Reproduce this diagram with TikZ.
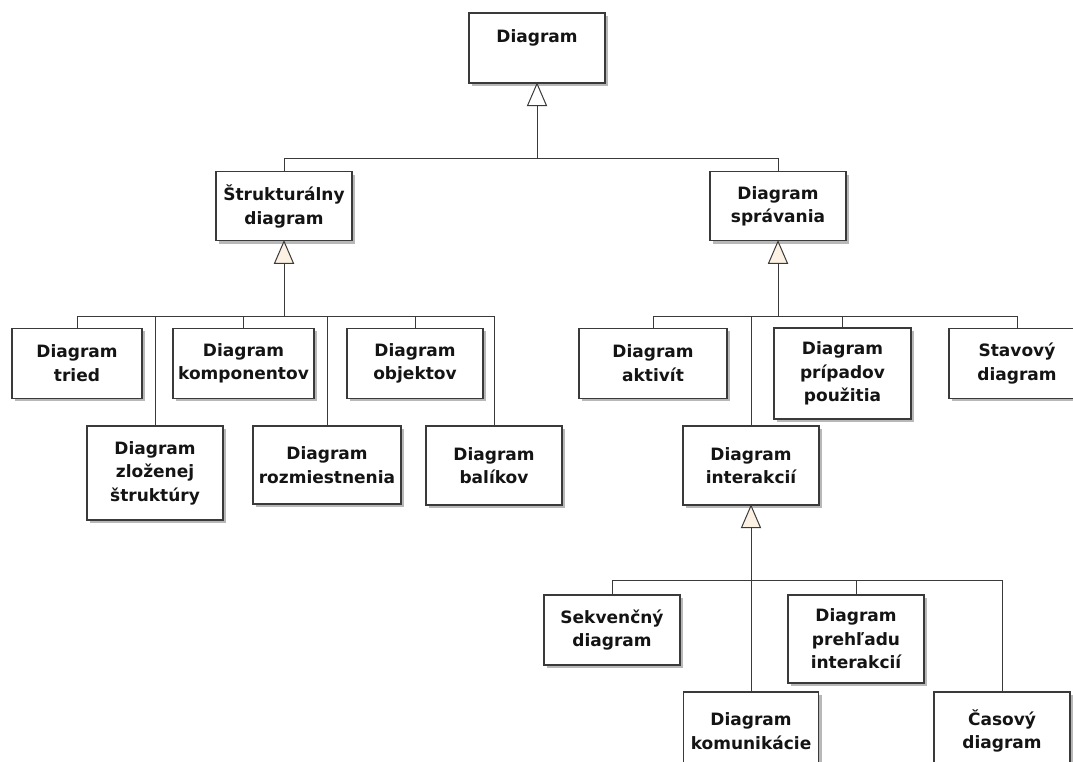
\documentclass[tikz,border=0pt]{standalone}
\usepackage{fontspec}
\setmainfont{DejaVu Sans}
\usetikzlibrary{shadows}
\definecolor{cream}{HTML}{FCF1E2}
\definecolor{inkline}{HTML}{3A3A3A}

\begin{document}
\begin{tikzpicture}[x=1pt,y=-1pt,
  box/.style={draw=inkline, line width=1.3pt, fill=white, align=center, inner sep=0pt,
    font=\fontsize{17}{23.5}\selectfont\bfseries, text=black!92,
    drop shadow={shadow xshift=3pt, shadow yshift=-3pt, fill=black, opacity=0.28}},
  conn/.style={draw=inkline, line width=1pt},
  gen/.style={draw=inkline, line width=1pt, fill=#1, line join=miter},
  gen/.default=cream,
]
\path[use as bounding box] (0,0) rectangle (1073,761);
\fill[white] (0,0) rectangle (1073,761);
\clip (0,0) rectangle (1073,761);

% root
\node[box, minimum width=136pt, minimum height=70pt, text depth=23pt] (d0) at (537,48) {Diagram};

% second level
\node[box, minimum width=136pt, minimum height=69pt] (s) at (284,206.2) {Štrukturálny\\diagram};
\node[box, minimum width=136pt, minimum height=69pt] (b) at (778,206.2) {Diagram\\správania};

% structural diagrams
\node[box, minimum width=130pt, minimum height=70pt] (tried) at (77,363.3) {Diagram\\tried};
\node[box, minimum width=141pt, minimum height=70pt] (komp) at (243.5,363.3) {Diagram\\komponentov};
\node[box, minimum width=136pt, minimum height=70pt] (obj) at (415,363.3) {Diagram\\objektov};
\node[box, minimum width=136pt, minimum height=94pt] (zloz) at (155,473) {Diagram\\zloženej\\štruktúry};
\node[box, minimum width=148pt, minimum height=78pt] (rozm) at (327,465) {Diagram\\rozmiestnenia};
\node[box, minimum width=136pt, minimum height=79pt] (balik) at (494,465.5) {Diagram\\balíkov};

% behavioural diagrams
\node[box, minimum width=148pt, minimum height=70pt] (akt) at (653,363.3) {Diagram\\aktivít};
\node[box, minimum width=137pt, minimum height=91pt] (prip) at (842.5,373.5) {Diagram\\prípadov\\použitia};
\node[box, minimum width=136pt, minimum height=70pt] (stav) at (1017,363.3) {Stavový\\diagram};
\node[box, minimum width=136pt, minimum height=79pt] (inter) at (751,465.5) {Diagram\\interakcií};

% interaction diagrams
\node[box, minimum width=136pt, minimum height=70pt] (sekv) at (612,630) {Sekvenčný\\diagram};
\node[box, minimum width=136pt, minimum height=88pt] (prehl) at (856,639) {Diagram\\prehľadu\\interakcií};
\node[box, minimum width=135pt, minimum height=78pt] (komun) at (751,731) {Diagram\\komunikácie};
\node[box, minimum width=136pt, minimum height=78pt] (cas) at (1002,731) {Časový\\diagram};

% horizontal bus levels
\coordinate (busTop) at (0,158);
\coordinate (busS) at (0,316.7);
\coordinate (busB) at (0,316);
\coordinate (busI) at (0,580);

% triangle bases
\coordinate (d0b) at ([yshift=-22pt]d0.south);
\coordinate (sb) at ([yshift=-22pt]s.south);
\coordinate (bb) at ([yshift=-22pt]b.south);
\coordinate (ib) at ([yshift=-22pt]inter.south);

% generalisation connectors
\draw[conn] (d0b) -- (d0b |- busTop) -| (s.north);
\draw[conn] (d0b |- busTop) -| (b.north);

\draw[conn] (sb) -- (sb |- busS);
\foreach \c in {tried,zloz,komp,rozm,obj,balik}
  \draw[conn] (sb |- busS) -| (\c.north);

\draw[conn] (bb) -- (bb |- busB);
\foreach \c in {akt,inter,prip,stav}
  \draw[conn] (bb |- busB) -| (\c.north);

\draw[conn] (ib) -- (ib |- busI);
\foreach \c in {sekv,komun,prehl,cas}
  \draw[conn] (ib |- busI) -| (\c.north);

% hollow triangle heads
\draw[gen=white] (d0.south) -- ++(-9.5,22) -- ++(19,0) -- cycle;
\draw[gen] (s.south) -- ++(-9.5,22) -- ++(19,0) -- cycle;
\draw[gen] (b.south) -- ++(-9.5,22) -- ++(19,0) -- cycle;
\draw[gen] (inter.south) -- ++(-9.5,22) -- ++(19,0) -- cycle;
\end{tikzpicture}
\end{document}
